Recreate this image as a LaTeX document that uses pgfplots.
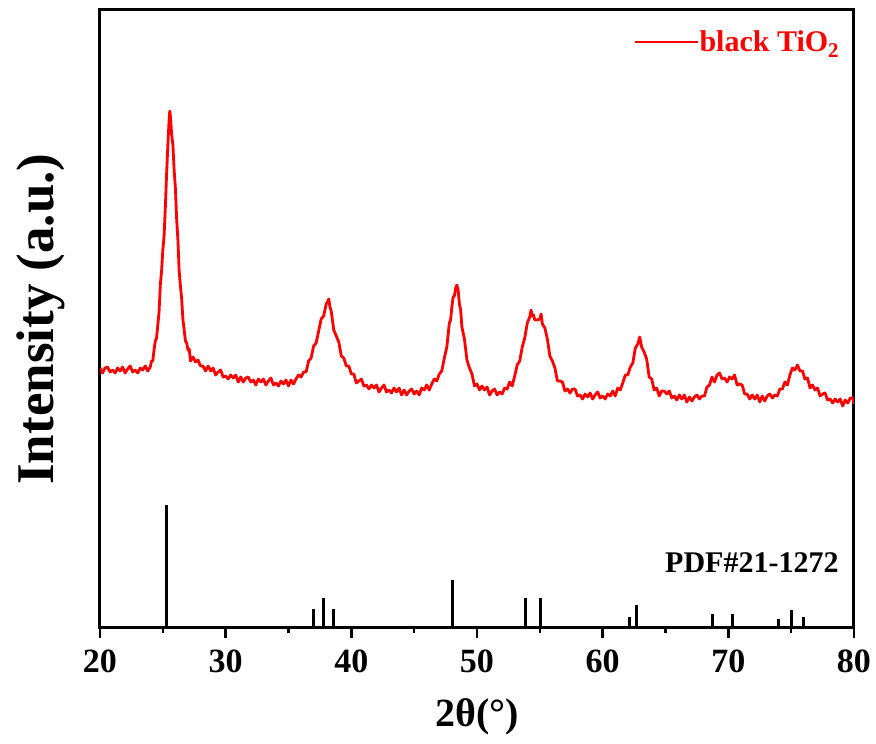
\documentclass[border=0pt]{standalone}
\usepackage{fontspec}
\setmainfont{Liberation Serif}
\usepackage{pgfplots}
\pgfplotsset{compat=1.18}
\pgfplotstableread{
x y
20.0 260
20.2 255
20.4 260
20.6 261
20.8 256
21.0 258
21.2 255
21.4 260
21.6 257
21.8 261
22.0 255
22.2 259
22.4 262
22.6 256
22.8 258
23.0 255
23.2 260
23.4 258
23.6 262
23.8 257
24.0 261
24.1 267
24.2 267
24.3 278
24.4 287
24.5 290
24.6 303
24.7 316
24.8 343
24.9 357
25.0 378
25.1 392
25.2 421
25.3 454
25.4 483
25.5 508
25.55 517
25.6 512
25.7 494
25.8 483
25.9 458
26.0 440
26.1 409
26.2 388
26.3 357
26.4 342
26.5 329
26.6 308
26.7 298
26.8 287
26.9 285
27.0 278
27.1 279
27.2 267
27.4 271
27.6 266
27.8 268
28.0 262
28.2 262
28.4 257
28.6 262
28.8 257
29.0 260
29.2 253
29.4 256
29.6 258
29.8 251
30.0 252
30.2 249
30.4 253
30.6 250
30.8 253
31.0 246
31.2 251
31.4 246
31.6 250
31.8 251
32.0 246
32.2 248
32.4 243
32.6 249
32.8 246
33.0 249
33.2 243
33.4 247
33.6 250
33.8 243
34.0 245
34.2 242
34.4 247
34.6 244
34.8 248
35.0 242
35.2 248
35.4 244
35.6 249
35.8 253
36.0 251
36.2 256
36.4 256
36.6 267
36.8 270
37.0 282
37.2 285
37.4 297
37.6 309
37.8 312
38.0 324
38.1 326
38.2 329
38.3 321
38.4 317
38.6 298
38.8 292
39.0 286
39.2 272
39.4 270
39.6 262
39.8 262
40.0 254
40.2 254
40.4 245
40.6 247
40.8 249
41.0 242
41.2 243
41.4 239
41.6 243
41.8 240
42.0 243
42.2 236
42.4 240
42.6 243
42.8 236
43.0 238
43.2 235
43.4 240
43.6 236
43.8 240
44.0 233
44.2 238
44.4 233
44.6 237
44.8 239
45.0 234
45.2 237
45.4 233
45.6 240
45.8 238
46.0 243
46.2 238
46.4 244
46.6 249
46.8 247
47.0 254
47.2 257
47.4 270
47.6 281
47.8 305
47.9 308
48.0 321
48.1 331
48.2 332
48.3 340
48.4 343
48.5 338
48.6 324
48.7 318
48.8 301
49.0 289
49.2 268
49.4 260
49.6 254
49.8 242
50.0 244
50.2 238
50.4 242
50.6 238
50.8 241
51.0 233
51.2 237
51.4 239
51.6 233
51.8 236
52.0 234
52.2 240
52.4 239
52.6 246
52.8 242
53.0 252
53.2 263
53.4 267
53.6 281
53.8 290
54.0 305
54.2 311
54.3 318
54.4 312
54.5 313
54.6 308
54.8 308
55.0 309
55.1 314
55.2 304
55.4 300
55.6 289
55.8 272
56.0 267
56.2 260
56.4 247
56.6 247
56.8 246
57.0 237
57.2 239
57.4 235
57.6 239
57.8 239
58.0 232
58.2 233
58.4 229
58.6 234
58.8 231
59.0 235
59.2 229
59.4 233
59.6 236
59.8 230
60.0 232
60.2 229
60.4 234
60.6 232
60.8 237
61.0 232
61.2 240
61.4 238
61.6 245
61.8 253
62.0 253
62.2 261
62.4 265
62.6 280
62.8 284
62.95 291
63.1 281
63.3 276
63.5 269
63.7 251
63.9 249
64.1 238
64.3 240
64.5 232
64.7 237
64.9 237
65.1 234
65.3 237
65.5 230
65.7 232
65.9 228
66.1 233
66.3 229
66.5 233
66.7 226
66.9 231
67.1 227
67.3 231
67.5 233
67.7 229
67.9 232
68.1 232
68.3 241
68.5 243
68.7 251
68.9 246
69.1 253
69.3 255
69.5 249
69.7 250
69.9 246
70.1 251
70.3 249
70.5 253
70.7 243
70.9 244
71.1 243
71.3 234
71.5 234
71.7 229
71.9 233
72.1 229
72.3 233
72.5 226
72.7 232
72.9 227
73.1 232
73.3 234
73.5 230
73.7 233
73.9 232
74.1 239
74.3 239
74.5 246
74.7 243
74.9 253
75.1 260
75.3 258
75.5 263
75.7 257
75.9 257
76.1 249
76.3 250
76.5 240
76.7 243
76.9 238
77.1 240
77.3 232
77.5 234
77.7 235
77.9 228
78.1 229
78.3 225
78.5 229
78.7 226
78.9 229
79.1 222
79.3 228
79.5 225
79.7 230
79.9 230
80.0 224
}\xrd
\pgfplotstableread{
x y
25.28 123
36.95 19
37.80 30
38.58 19
48.05 48
53.89 30
55.06 30
62.12 11
62.69 23
68.76 14
70.31 14
74.03 9
75.03 18
76.02 11
}\pdfref
\begin{document}
\begin{tikzpicture}
\path[use as bounding box] (-100pt,-116pt) rectangle (776pt,628pt);
\begin{axis}[
  at={(0pt,0pt)}, anchor=south west,
  width=754pt, height=618pt, scale only axis,
  xmin=20, xmax=80, ymin=0, ymax=618,
  xtick={20,30,...,80}, minor x tick num=1,
  ytick=\empty,
  xtick pos=bottom, tick align=outside,
  major tick length=10pt, minor tick length=5pt,
  every tick/.style={black, line width=2.5pt},
  axis line style={line width=3pt},
  /pgf/number format/assume math mode=true,
  xticklabel style={font=\fontsize{34}{34}\selectfont\bfseries, anchor=base, yshift=-35pt},
  xlabel={2θ(°)},
  xlabel style={at={(axis description cs:0.5,0)}, anchor=base, yshift=-99pt, font=\fontsize{40}{40}\selectfont\bfseries},
  ylabel={Intensity (a.u.)},
  ylabel style={at={(axis description cs:-0.0623,0.5)}, anchor=base, rotate=0, font=\fontsize{53}{53}\selectfont\bfseries},
  legend style={at={(axis description cs:0.982,0.968)}, anchor=north east, draw=none, fill=none,
    font=\fontsize{30}{30}\selectfont\bfseries, text=red, inner sep=0pt, nodes={inner sep=1pt}},
  legend image code/.code={\draw[red, line width=2pt] (0pt,0pt) -- (63pt,0pt);},
]
\addplot[red, line width=2.8pt, mark=none, line join=round] table[x=x,y=y] {\xrd};
\addlegendentry{black TiO\textsubscript{2}}
\addplot[ycomb, black, line width=3pt, mark=none, forget plot] table[x=x,y=y] {\pdfref};
\node[anchor=base east, font=\fontsize{30}{30}\selectfont\bfseries] at (axis cs:79.05,55) {PDF\#21-1272};
\end{axis}
\end{tikzpicture}
\end{document}
